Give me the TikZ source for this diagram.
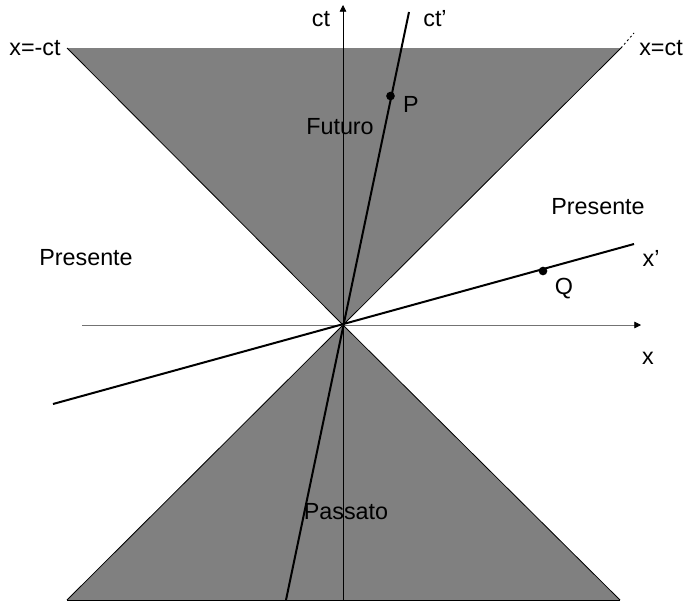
\documentclass[tikz,border=0pt]{standalone}
\usepackage{fontspec}
\setmainfont{Liberation Sans}
\usetikzlibrary{arrows.meta}
\begin{document}
\begin{tikzpicture}[x=0.75pt,y=-0.75pt,
  lbl/.style={inner sep=0pt,font=\fontsize{17.5}{20}\selectfont},
  cone/.style={fill=gray,draw=none},
  edge/.style={draw=black,line width=0.6pt},
  world/.style={line width=1.5pt},
  dotpt/.style={circle,fill=black,inner sep=0pt,minimum size=6.5pt}]
\useasboundingbox (0,0) rectangle (684,603);
% key points
\coordinate (O) at (343,325);
\coordinate (TL) at (67,48);
\coordinate (TR) at (621,48);
\coordinate (BL) at (67,600);
\coordinate (BR) at (620,600);
\coordinate (TRx) at (634,33);
% cones
\fill[cone] (TL) -- (TR) -- (O) -- cycle;
\fill[cone] (BL) -- (BR) -- (O) -- cycle;
\draw[edge] (TL) -- (O) -- (TR);
\draw[edge] (BL) -- (O) -- (BR);
\draw[edge] (BL) -- (BR);
\draw[black,line width=0.7pt,dash pattern=on 1.5pt off 2pt] (TR) -- (TRx);
% axes
\coordinate (xs) at (82,325);
\coordinate (xe) at (641,325);
\coordinate (ts) at (343,600);
\coordinate (te) at (343,5);
\draw[black!55,line width=0.6pt,-{Triangle[length=5pt,width=5pt,fill=black,color=black]}] (xs) -- (xe);
\draw[line width=0.6pt,-{Triangle[length=5pt,width=5pt]}] (ts) -- (te);
% moving frame axes
\coordinate (cps) at (286,600);
\coordinate (cpe) at (409,12);
\coordinate (xps) at (53,404);
\coordinate (xpe) at (634,244);
\draw[world] (cps) -- (cpe);
\draw[world] (xps) -- (xpe);
% events
\node[dotpt] (P) at (390.5,96) {};
\node[dotpt] (Q) at (543,271) {};
% labels
\node[lbl] (lct) at (321,19) {ct};
\node[lbl] (lctp) at (435,19) {ct’};
\node[lbl] (lxmct) at (35,48) {x=-ct};
\node[lbl] (lxct) at (661,48) {x=ct};
\node[lbl] (lP) at (411,104) {P};
\node[lbl] (lQ) at (564,289) {Q};
\node[lbl] (lF) at (340,127) {Futuro};
\node[lbl] (lPa) at (346,512) {Passato};
\node[lbl] (lPl) at (86,258) {Presente};
\node[lbl] (lPr) at (598,207) {Presente};
\node[lbl] (lxp) at (651,258) {x’};
\node[lbl] (lx) at (648,358) {x};
\end{tikzpicture}
\end{document}
